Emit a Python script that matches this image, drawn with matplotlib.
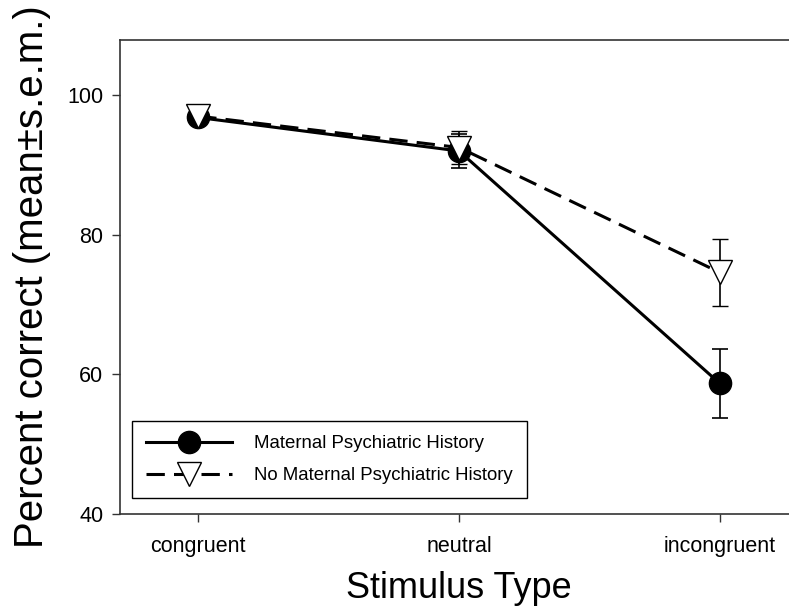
import matplotlib
matplotlib.use("Agg")
import matplotlib.pyplot as plt
from matplotlib.lines import Line2D

categories = ["congruent", "neutral", "incongruent"]
maternal_mean = [96.8, 92.0, 58.7]
maternal_sem = [0.0, 2.5, 5.0]
nomaternal_mean = [97.0, 92.5, 74.6]
nomaternal_sem = [0.0, 2.3, 4.8]
yticks = [40, 60, 80, 100]
labels = ["Maternal Psychiatric History", "No Maternal Psychiatric History"]

plt.rcParams['font.family'] = ['Liberation Sans', 'DejaVu Sans']

fig = plt.figure(figsize=(7.89, 6.15), dpi=100)
ax = fig.add_axes([120/789, 1-514/615, 678/789, 474/615])

x = list(range(len(categories)))
frame_col = '#333333'
dash = (0, (6, 3))

ax.errorbar(x, maternal_mean, yerr=maternal_sem, color='black', lw=2.2,
            marker='o', markersize=16, markerfacecolor='black', markeredgecolor='black',
            ecolor='black', elinewidth=1.2, capsize=5.5, capthick=1.2, zorder=3)
ax.errorbar(x, nomaternal_mean, yerr=nomaternal_sem, color='black', lw=2.2,
            linestyle=dash,
            marker='v', markersize=17, markerfacecolor='white', markeredgecolor='black',
            markeredgewidth=1.0,
            ecolor='black', elinewidth=1.2, capsize=5.5, capthick=1.2, zorder=4)

ax.set_xlim(-0.3, 2.3)
ax.set_ylim(40, 107.9)
ax.set_xticks(x)
ax.set_xticklabels(categories)
ax.set_yticks(yticks)
ax.set_yticklabels([str(v) for v in yticks])
ax.tick_params(direction='out', length=6, width=1.0, color=frame_col,
               labelsize=15.5)
ax.tick_params(axis='x', pad=10)
ax.tick_params(axis='y', pad=6)
for s in ax.spines.values():
    s.set_color(frame_col)
    s.set_linewidth(1.2)

ax.set_xlabel("Stimulus Type", fontsize=26, labelpad=10)
ax.set_ylabel("Percent correct (mean\u00b1s.e.m.)", fontsize=29, labelpad=12)

handles = [
    Line2D([], [], color='black', lw=2.2, marker='o', markersize=16,
           markerfacecolor='black', markeredgecolor='black'),
    Line2D([], [], color='black', lw=2.2, linestyle=dash, marker='v', markersize=17,
           markerfacecolor='white', markeredgecolor='black', markeredgewidth=1.0),
]
leg = ax.legend(handles, labels, loc='lower left', bbox_to_anchor=(12/678, 16/474),
                borderaxespad=0, fancybox=False, edgecolor='black', fontsize=13.4,
                handlelength=4.6, handletextpad=1.2, borderpad=0.75, labelspacing=0.8,
                framealpha=1)
leg.get_frame().set_linewidth(1.0)

fig.savefig("out.png", dpi=100)
